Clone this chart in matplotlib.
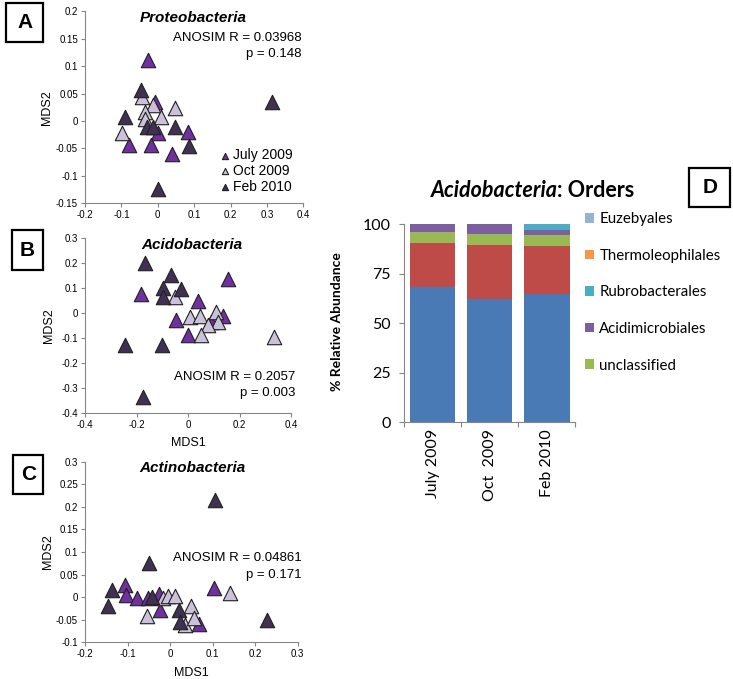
import matplotlib
matplotlib.use('Agg')
import matplotlib.pyplot as plt
from matplotlib.patches import Rectangle
from matplotlib.ticker import FuncFormatter, MultipleLocator

plt.rcParams['axes.unicode_minus'] = False

# ---- NMDS 座標 (A: Proteobacteria) ----
july_A_x = [-0.026, -0.007, 0.002, 0.082, -0.079, -0.018, 0.040]
july_A_y = [0.111, 0.035, -0.022, -0.020, -0.044, -0.044, -0.060]
oct_A_x = [-0.044, -0.012, -0.035, 0.048, 0.009, -0.035, -0.097]
oct_A_y = [0.043, 0.029, 0.017, 0.023, 0.007, 0.003, -0.021]
feb_A_x = [-0.046, -0.090, -0.030, -0.014, 0.046, 0.087, 0.002, 0.313]
feb_A_y = [0.057, 0.008, -0.011, -0.011, -0.011, -0.046, -0.124, 0.035]

# ---- B: Acidobacteria ----
july_B_x = [0.155, -0.184, 0.039, 0.134, 0.090, -0.045, 0.000]
july_B_y = [0.136, 0.077, 0.050, -0.011, -0.035, -0.027, -0.087]
oct_B_x = [-0.049, 0.009, 0.045, 0.110, 0.117, 0.078, 0.052, 0.333]
oct_B_y = [0.066, -0.013, -0.011, 0.007, -0.033, -0.047, -0.087, -0.093]
feb_B_x = [-0.168, -0.067, -0.097, -0.026, -0.097, -0.246, -0.101, -0.175]
feb_B_y = [0.200, 0.153, 0.100, 0.096, 0.064, -0.127, -0.127, -0.333]

# ---- C: Actinobacteria ----
july_C_x = [0.104, -0.107, -0.103, -0.078, -0.051, -0.025, -0.024, 0.068]
july_C_y = [0.020, 0.027, 0.005, -0.002, -0.002, 0.007, -0.028, -0.059]
oct_C_x = [0.141, -0.016, -0.005, 0.012, -0.055, 0.049, 0.035, 0.057]
oct_C_y = [0.009, -0.002, 0.002, 0.003, -0.041, -0.019, -0.061, -0.047]
feb_C_x = [0.106, -0.049, 0.227, -0.137, -0.145, -0.042, 0.020, 0.024]
feb_C_y = [0.215, 0.075, -0.050, 0.015, -0.019, 0.001, -0.028, -0.054]

season_labels = ['July 2009', 'Oct 2009', 'Feb 2010']
season_colors = ['#7030A0', '#CCC1DA', '#403152']

# ---- D: 積み上げ棒 ----
bar_months = ['July 2009', 'Oct  2009', 'Feb 2010']
order_names = ['Order 1', 'Order 2', 'unclassified', 'Acidimicrobiales',
               'Rubrobacterales', 'Thermoleophilales', 'Euzebyales']
order_values = [
    [68.5, 62.1, 65.0],
    [22.2, 27.5, 23.9],
    [5.4, 5.5, 5.9],
    [3.9, 4.9, 2.3],
    [0.0, 0.0, 2.9],
    [0.0, 0.0, 0.0],
    [0.0, 0.0, 0.0],
]
order_colors = ['#4A7AB5', '#BE4B48', '#98B954', '#7D5FA0', '#4AACC5', '#F79646', '#95B3D7']

W, H = 733, 679
fig = plt.figure(figsize=(W / 100, H / 100), dpi=100)


def px_axes(l, t, r, b):
    return fig.add_axes([l / W, 1 - b / H, (r - l) / W, (b - t) / H])


def fmt(v, _):
    if abs(v) < 1e-9:
        return '0'
    return f'{round(v, 3):g}'


AX_GRAY = '#868686'
SANS = 'Liberation Sans'


def scatter_panel(ax, data, xlim, ylim, xstep, ystep, title, tpos, stats, spos, xlabel):
    for (x, y), c, lab in zip(data, season_colors, season_labels):
        ax.scatter(x, y, s=108, marker='^', color=c, edgecolors='#202020',
                   linewidths=0.8, label=lab, clip_on=False, zorder=3)
    ax.set_xlim(*xlim)
    ax.set_ylim(*ylim)
    ax.xaxis.set_major_locator(MultipleLocator(xstep))
    ax.yaxis.set_major_locator(MultipleLocator(ystep))
    ax.xaxis.set_major_formatter(FuncFormatter(fmt))
    ax.yaxis.set_major_formatter(FuncFormatter(fmt))
    for s in ['top', 'right']:
        ax.spines[s].set_visible(False)
    for s in ['left', 'bottom']:
        ax.spines[s].set_color(AX_GRAY)
        ax.spines[s].set_linewidth(0.8)
    ax.tick_params(direction='out', length=3, width=0.8, color=AX_GRAY,
                   labelsize=7, pad=2)
    for lbl in ax.get_xticklabels() + ax.get_yticklabels():
        lbl.set_family(SANS)
    ax.set_ylabel('MDS2', fontsize=9, family=SANS)
    ax.yaxis.set_label_coords(-0.145, 0.5)
    if xlabel:
        ax.set_xlabel('MDS1', fontsize=9, family=SANS, va='top')
        ax.xaxis.set_label_coords(0.5, -0.135)
    ax.text(tpos[0], tpos[1], title, transform=ax.transAxes, ha='center', va='center',
            fontsize=11, fontweight='bold', fontstyle='italic', family=SANS)
    ax.text(spos[0], spos[1], stats[0], transform=ax.transAxes, ha='right', va='center',
            fontsize=9.5, family=SANS)
    ax.text(spos[0], spos[2], stats[1], transform=ax.transAxes, ha='right', va='center',
            fontsize=9.5, family=SANS)


axA = px_axes(85, 11.3, 303.3, 203.3)
scatter_panel(axA, [(july_A_x, july_A_y), (oct_A_x, oct_A_y), (feb_A_x, feb_A_y)],
              (-0.2, 0.4), (-0.15, 0.2), 0.1, 0.05, 'Proteobacteria', (0.495, 0.965),
              ('ANOSIM R = 0.03968', 'p = 0.148'), (0.994, 0.861, 0.778), False)
leg = axA.legend(loc='center left', bbox_to_anchor=(0.616, 0.168), frameon=False,
                 markerscale=0.43, handlelength=0.8, handletextpad=0.2,
                 labelspacing=0.12, borderpad=0, borderaxespad=0,
                 prop={'family': SANS, 'size': 10})

axB = px_axes(85, 238.3, 291, 413.3)
scatter_panel(axB, [(july_B_x, july_B_y), (oct_B_x, oct_B_y), (feb_B_x, feb_B_y)],
              (-0.4, 0.4), (-0.4, 0.3), 0.2, 0.1, 'Acidobacteria', (0.518, 0.962),
              ('ANOSIM R = 0.2057', 'p = 0.003'), (1.019, 0.209, 0.118), True)

axC = px_axes(85, 461.7, 297.7, 642.3)
scatter_panel(axC, [(july_C_x, july_C_y), (oct_C_x, oct_C_y), (feb_C_x, feb_C_y)],
              (-0.2, 0.3), (-0.1, 0.3), 0.1, 0.05, 'Actinobacteria', (0.503, 0.963),
              ('ANOSIM R = 0.04861', 'p = 0.171'), (1.019, 0.465, 0.373), True)

# ---- D ----
BAR_FONT = 'Lato'
axD = px_axes(404, 224.3, 575.3, 422.3)
xpos = list(range(len(bar_months)))
bottom = [0.0] * len(bar_months)
handles = {}
for name, vals, col in zip(order_names, order_values, order_colors):
    bars = axD.bar(xpos, vals, bottom=bottom, width=0.8, color=col, linewidth=0)
    handles[name] = bars
    bottom = [b + v for b, v in zip(bottom, vals)]
axD.set_xlim(-0.5, len(bar_months) - 0.5)
axD.set_ylim(0, 100)
axD.set_yticks([0, 25, 50, 75, 100])
axD.set_xticks(xpos)
axD.set_xticklabels(bar_months, rotation=90, fontsize=11.5, family=BAR_FONT)
axD.set_xticks([p - 0.5 for p in range(len(bar_months) + 1)], minor=True)
axD.tick_params(axis='x', which='major', length=0, pad=5)
axD.tick_params(axis='x', which='minor', direction='out', length=3.5, width=0.8, color=AX_GRAY)
axD.tick_params(axis='y', direction='out', length=3.5, width=0.8, color=AX_GRAY,
                labelsize=11.5, pad=6)
for lbl in axD.get_yticklabels():
    lbl.set_family(BAR_FONT)
for s in ['top', 'right']:
    axD.spines[s].set_visible(False)
for s in ['left', 'bottom']:
    axD.spines[s].set_color(AX_GRAY)
    axD.spines[s].set_linewidth(0.8)
axD.set_ylabel('% Relative Abundance', fontsize=10, fontweight='bold', family=BAR_FONT)
axD.yaxis.set_label_coords(-0.354, 0.508)

legend_order = ['Euzebyales', 'Thermoleophilales', 'Rubrobacterales', 'Acidimicrobiales', 'unclassified']
fig.legend([handles[n] for n in legend_order], legend_order, loc='upper left',
           bbox_to_anchor=(585 / W, 1 - 212.5 / H), frameon=False,
           handlelength=0.6, handleheight=0.6, handletextpad=0.36,
           labelspacing=1.5, borderpad=0, borderaxespad=0,
           prop={'family': BAR_FONT, 'size': 10.8})

# タイトル (斜体部分 + 通常部分)
t1 = fig.text(0.5, 1 - 190.7 / H, 'Acidobacteria', ha='right', va='center',
              fontsize=15.5, fontweight='bold', fontstyle='italic', family=BAR_FONT)
t2 = fig.text(0.5, 1 - 190.7 / H, ': Orders', ha='left', va='center',
              fontsize=15.5, fontweight='bold', family=BAR_FONT)
fig.canvas.draw()
w1 = t1.get_window_extent().width
w2 = t2.get_window_extent().width
split = 532.5 - (w1 + w2) / 2 + w1
t1.set_x(split / W)
t2.set_x(split / W)

# パネル記号の枠
boxes = [('A', 6, 2.7, 43.3, 41.7), ('B', 11.7, 230, 43.3, 270),
         ('C', 13.3, 455, 43.3, 493.5), ('D', 689.3, 167.7, 730, 207.3)]
for letter, l, t, r, b in boxes:
    fig.patches.append(Rectangle((l / W, 1 - b / H), (r - l) / W, (b - t) / H,
                                 transform=fig.transFigure, fill=False,
                                 edgecolor='black', linewidth=1.6))
    fig.text((l + r) / 2 / W, 1 - (t + b) / 2 / H, letter, ha='center', va='center',
             fontsize=15, fontweight='bold', family=SANS)

fig.savefig('out.png', dpi=100)
